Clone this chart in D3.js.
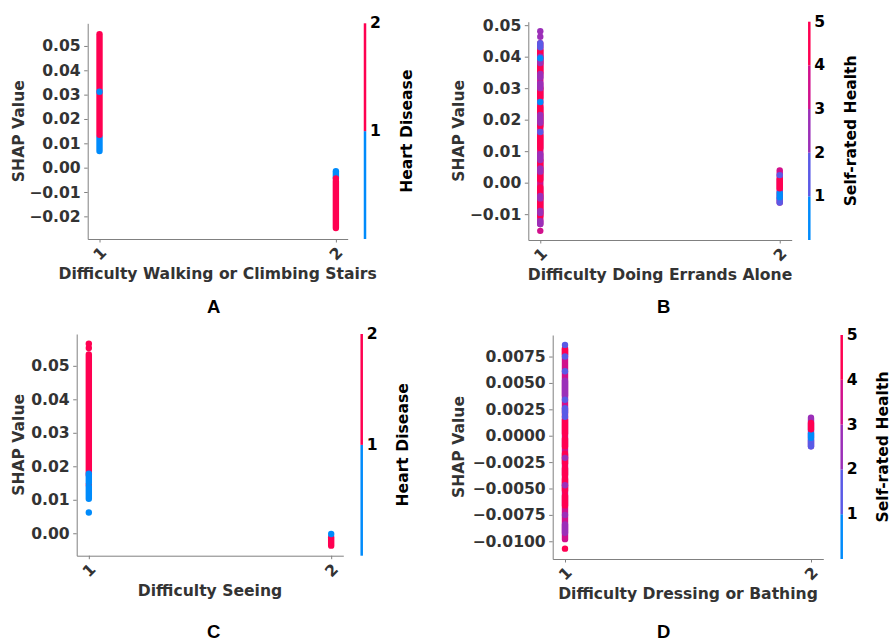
<!DOCTYPE html>
<html>
<head>
<meta charset="utf-8">
<script src="https://cdn.jsdelivr.net/npm/d3@7"></script>
<style>
  body { margin: 0; background: #fff; }
  svg text { font-family: "DejaVu Sans", sans-serif; font-weight: bold; }
</style>
</head>
<body>
<svg id="chart"></svg>
<script>
// ---- data ----
const categories = [1, 2];
const heartDiseaseLevels = [1, 2];
const selfRatedHealthLevels = [1, 2, 3, 4, 5];

const walkingTicks = [-0.02, -0.01, 0, 0.01, 0.02, 0.03, 0.04, 0.05];
const errandsTicks = [-0.01, 0, 0.01, 0.02, 0.03, 0.04, 0.05];
const seeingTicks = [0, 0.01, 0.02, 0.03, 0.04, 0.05];
const dressingTicks = [-0.01, -0.0075, -0.005, -0.0025, 0, 0.0025, 0.005, 0.0075];

// runs of overlapping dots: [category, lowest SHAP, highest SHAP, colour value]
// drawn in this order, so later runs sit on top (lo == hi is a single dot)
const walkingRuns = [
  [1, 0.0068, 0.0125, 1],
  [1, 0.0135, 0.0548, 2],
  [1, 0.0312, 0.0312, 1],
  [2, -0.0040, -0.0015, 1],
  [2, -0.0248, -0.0055, 2],
  [2, -0.0044, -0.0044, 2]
];

const errandsRuns = [
  [1, -0.0131, 0.0443, 4],
  [1, -0.0105, -0.0015, 5],
  [1, 0.0010, 0.0070, 5],
  [1, 0.0110, 0.0150, 5],
  [1, 0.0180, 0.0240, 5],
  [1, 0.0270, 0.0300, 5],
  [1, 0.0350, 0.0420, 5],
  [1, 0.0380, 0.0400, 3],
  [1, 0.0335, 0.0345, 3],
  [1, 0.0300, 0.0315, 3],
  [1, 0.0190, 0.0215, 3],
  [1, 0.0072, 0.0090, 3],
  [1, 0.0035, 0.0045, 3],
  [1, -0.0050, -0.0042, 3],
  [1, -0.0096, -0.0090, 3],
  [1, -0.0131, -0.0122, 3],
  [1, 0.0430, 0.0443, 2],
  [1, 0.0395, 0.0395, 1],
  [1, 0.0256, 0.0256, 1],
  [1, 0.0161, 0.0161, 2],
  [1, 0.0463, 0.0463, 3],
  [1, 0.0481, 0.0481, 3],
  [1, -0.0153, -0.0153, 4],
  [2, -0.0063, 0.0039, 4],
  [2, -0.0063, -0.0052, 2],
  [2, -0.0046, -0.0032, 1],
  [2, -0.0018, 0.0010, 5],
  [2, 0.0024, 0.0024, 2]
];

const seeingRuns = [
  [1, 0.0062, 0.0062, 1],
  [1, 0.0175, 0.0534, 2],
  [1, 0.0145, 0.0145, 2],
  [1, 0.0103, 0.0139, 1],
  [1, 0.0151, 0.0178, 1],
  [1, 0.0553, 0.0553, 2],
  [1, 0.0566, 0.0566, 2],
  [2, -0.0037, -0.0012, 2],
  [2, -0.0002, -0.0002, 1]
];

const dressingRuns = [
  [1, -0.0098, 0.0083, 4],
  [1, -0.0066, -0.0057, 5],
  [1, -0.0052, -0.0041, 5],
  [1, -0.0037, -0.0031, 5],
  [1, -0.0026, -0.0017, 5],
  [1, -0.0010, -0.0003, 5],
  [1, 0.0002, 0.0015, 5],
  [1, 0.0077, 0.0082, 5],
  [1, 0.0038, 0.0052, 3],
  [1, -0.0092, -0.0084, 3],
  [1, -0.0075, -0.0075, 3],
  [1, -0.0047, -0.0047, 3],
  [1, -0.0021, -0.0021, 3],
  [1, 0.0086, 0.0086, 2],
  [1, 0.0075, 0.0075, 2],
  [1, 0.0061, 0.0061, 2],
  [1, 0.0034, 0.0034, 2],
  [1, 0.0022, 0.0026, 2],
  [1, 0.0018, 0.0018, 2],
  [1, -0.0107, -0.0107, 5],
  [2, -0.0010, 0.0017, 3],
  [2, -0.0010, -0.0004, 2],
  [2, -0.0002, 0.0002, 1],
  [2, 0.0006, 0.0012, 5]
];

// ---- layout ----
const WIDTH = 892;
const HEIGHT = 641;
const DOT_R = 3.2;
const FONT = "15.6px";

const heartColors = ["#008bfb", "#ff0051"];
const healthColors = ["#008bfb", "#5a5ae6", "#9b2fb8", "#d1108c", "#ff0051"];

const panels = [
  { letter: "A", runs: walkingRuns, ticks: walkingTicks, fmt: ".2f", yDomain: [-0.0293, 0.0593],
    xLabel: "Difficulty Walking or Climbing Stairs", cLabel: "Heart Disease",
    levels: heartDiseaseLevels, colors: heartColors,
    left: 87.7, right: 347.7, top: 23.3, bottom: 239, cbarX: 365, yLabelX: 19, letterY: 313 },
  { letter: "B", runs: errandsRuns, ticks: errandsTicks, fmt: ".2f", yDomain: [-0.0182, 0.0511],
    xLabel: "Difficulty Doing Errands Alone", cLabel: "Self-rated Health",
    levels: selfRatedHealthLevels, colors: healthColors,
    left: 528.3, right: 791.7, top: 21.7, bottom: 240, cbarX: 809.3, yLabelX: 459, letterY: 313 },
  { letter: "C", runs: seeingRuns, ticks: seeingTicks, fmt: ".2f", yDomain: [-0.0067, 0.0595],
    xLabel: "Difficulty Seeing", cLabel: "Heart Disease",
    levels: heartDiseaseLevels, colors: heartColors,
    left: 76.7, right: 343.3, top: 334, bottom: 555.7, cbarX: 361.7, yLabelX: 19, letterY: 638 },
  { letter: "D", runs: dressingRuns, ticks: dressingTicks, fmt: ".4f", yDomain: [-0.01168, 0.00954],
    xLabel: "Difficulty Dressing or Bathing", cLabel: "Self-rated Health",
    levels: selfRatedHealthLevels, colors: healthColors,
    left: 552.7, right: 823.3, top: 335, bottom: 559, cbarX: 841.7, yLabelX: 459, letterY: 638 }
];

const svg = d3.select("#chart").attr("width", WIDTH).attr("height", HEIGHT);

panels.forEach(p => {
  const g = svg.append("g");

  // matplotlib leaves 5% margin each side of the two categories
  const x = d3.scaleLinear().domain([0.95, 2.05]).range([p.left, p.right]);
  const y = d3.scaleLinear().domain(p.yDomain).range([p.bottom, p.top]);
  const color = d3.scaleOrdinal().domain(p.levels).range(p.colors);

  // dots
  g.selectAll(".run")
    .data(p.runs)
    .join("rect")
    .attr("class", "run")
    .attr("x", d => x(d[0]) - DOT_R)
    .attr("y", d => y(d[2]) - DOT_R)
    .attr("width", DOT_R * 2)
    .attr("height", d => y(d[1]) - y(d[2]) + DOT_R * 2)
    .attr("rx", DOT_R)
    .attr("fill", d => color(d[3]));

  // y axis
  const yAxis = g.append("g")
    .attr("transform", `translate(${p.left},0)`)
    .call(d3.axisLeft(y).tickValues(p.ticks).tickFormat(d3.format(p.fmt))
      .tickSize(3.5).tickPadding(3.5).tickSizeOuter(0));

  // x axis
  const xAxis = g.append("g")
    .attr("transform", `translate(0,${p.bottom})`)
    .call(d3.axisBottom(x).tickValues(categories).tickFormat(d3.format("d"))
      .tickSize(3.5).tickSizeOuter(0));

  xAxis.selectAll(".tick text")
    .attr("y", 0).attr("dy", null)
    .attr("dominant-baseline", "central")
    .attr("transform", "translate(0,15) rotate(-45)");

  [yAxis, xAxis].forEach(a => {
    a.attr("font-family", null).attr("font-size", FONT);
    a.select(".domain").attr("stroke", "#808080").attr("stroke-width", 1);
    a.selectAll(".tick line").attr("stroke", "#808080");
    a.selectAll(".tick text").attr("fill", "#333");
  });

  g.append("text")
    .attr("x", (p.left + p.right) / 2)
    .attr("y", p.bottom + 40)
    .attr("text-anchor", "middle")
    .attr("font-size", FONT)
    .attr("fill", "#333")
    .text(p.xLabel);

  g.append("text")
    .attr("transform", `translate(${p.yLabelX},${(p.top + p.bottom) / 2}) rotate(-90)`)
    .attr("text-anchor", "middle")
    .attr("dominant-baseline", "central")
    .attr("font-size", FONT)
    .attr("fill", "#333")
    .text("SHAP Value");

  // colour bar
  const c = d3.scaleLinear().domain([0, p.levels.length]).range([p.bottom, p.top]);
  g.selectAll(".cbar")
    .data(p.levels)
    .join("rect")
    .attr("class", "cbar")
    .attr("x", p.cbarX - 1.25)
    .attr("y", d => c(d))
    .attr("width", 2.5)
    .attr("height", d => c(d - 1) - c(d))
    .attr("fill", d => color(d));

  g.selectAll(".cbar-label")
    .data(p.levels)
    .join("text")
    .attr("class", "cbar-label")
    .attr("x", p.cbarX + 5)
    .attr("y", d => c(d))
    .attr("dominant-baseline", "central")
    .attr("font-size", FONT)
    .attr("fill", "#000")
    .text(d => d);

  g.append("text")
    .attr("transform", `translate(${p.cbarX + 41.5},${(p.top + p.bottom) / 2}) rotate(-90)`)
    .attr("text-anchor", "middle")
    .attr("dominant-baseline", "central")
    .attr("font-size", FONT)
    .attr("fill", "#000")
    .text(p.cLabel);

  // panel letter
  g.append("text")
    .attr("x", p.letter === "A" || p.letter === "C" ? 213.7 : 663.7)
    .attr("y", p.letterY)
    .attr("text-anchor", "middle")
    .style("font-family", "'Liberation Sans', Arial, sans-serif")
    .attr("font-size", "18.5px")
    .attr("fill", "#000")
    .text(p.letter);
});
</script>
</body>
</html>
